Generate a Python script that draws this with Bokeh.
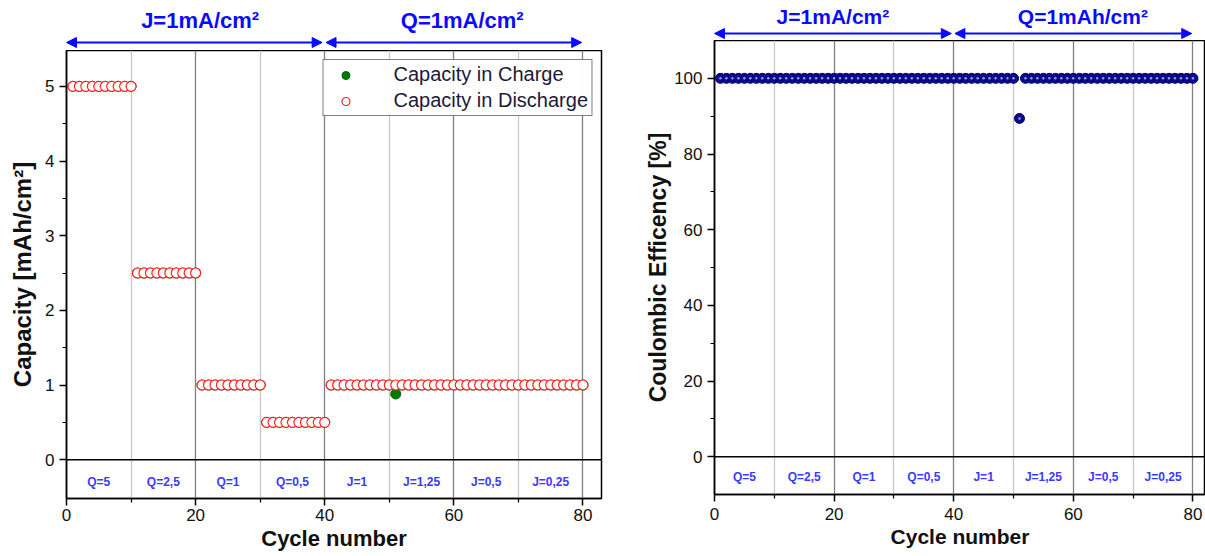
from bokeh.plotting import figure
from bokeh.layouts import row, column
from bokeh.models import (FixedTicker, Span, Arrow, NormalHead, Label, Legend,
                          LegendItem, Range1d, ColumnDataSource)
from bokeh.core.properties import value
from bokeh.embed import file_html
from bokeh.resources import INLINE

# ---------------- data ----------------
cycles = list(range(1, 81))
cap_discharge = [5, 5, 5, 5, 5, 5, 5, 5, 5, 5,
                 2.5, 2.5, 2.5, 2.5, 2.5, 2.5, 2.5, 2.5, 2.5, 2.5,
                 1, 1, 1, 1, 1, 1, 1, 1, 1, 1,
                 0.5, 0.5, 0.5, 0.5, 0.5, 0.5, 0.5, 0.5, 0.5, 0.5,
                 1, 1, 1, 1, 1, 1, 1, 1, 1, 1,
                 1, 1, 1, 1, 1, 1, 1, 1, 1, 1,
                 1, 1, 1, 1, 1, 1, 1, 1, 1, 1,
                 1, 1, 1, 1, 1, 1, 1, 1, 1, 1]
cap_charge = [5, 5, 5, 5, 5, 5, 5, 5, 5, 5,
              2.5, 2.5, 2.5, 2.5, 2.5, 2.5, 2.5, 2.5, 2.5, 2.5,
              1, 1, 1, 1, 1, 1, 1, 1, 1, 1,
              0.5, 0.5, 0.5, 0.5, 0.5, 0.5, 0.5, 0.5, 0.5, 0.5,
              1, 1, 1, 1, 1, 1, 1, 1, 1, 1,
              0.88, 1, 1, 1, 1, 1, 1, 1, 1, 1,
              1, 1, 1, 1, 1, 1, 1, 1, 1, 1,
              1, 1, 1, 1, 1, 1, 1, 1, 1, 1]
efficiency = [100, 100, 100, 100, 100, 100, 100, 100, 100, 100,
              100, 100, 100, 100, 100, 100, 100, 100, 100, 100,
              100, 100, 100, 100, 100, 100, 100, 100, 100, 100,
              100, 100, 100, 100, 100, 100, 100, 100, 100, 100,
              100, 100, 100, 100, 100, 100, 100, 100, 100, 100,
              89.4, 100, 100, 100, 100, 100, 100, 100, 100, 100,
              100, 100, 100, 100, 100, 100, 100, 100, 100, 100,
              100, 100, 100, 100, 100, 100, 100, 100, 100, 100]
band_labels = ["Q=5", "Q=2,5", "Q=1", "Q=0,5", "J=1", "J=1,25", "J=0,5", "J=0,25"]
band_centers = [5, 15, 25, 35, 45, 55, 65, 75]
x_major = [0, 20, 40, 60, 80]
x_minor = [10, 30, 50, 70]
cap_major = [0, 1, 2, 3, 4, 5]
cap_minor = [0.5, 1.5, 2.5, 3.5, 4.5]
eff_major = [0, 20, 40, 60, 80, 100]
eff_minor = [10, 30, 50, 70, 90]
seg_titles_left = ["J=1mA/cm\u00b2", "Q=1mA/cm\u00b2"]
seg_titles_right = ["J=1mA/cm\u00b2", "Q=1mAh/cm\u00b2"]
seg_start = [0, 40.2]
seg_end = [39.6, 79.8]

FONT = "Liberation Sans"
BLUE = "#0a0aff"
BAND_BLUE = "#3a3aff"


def style(p, ymaj, ymin, ylabel, xstand, ystand, ylabstand, xlabsize, ylabsize):
    p.outline_line_color = "black"
    p.outline_line_width = 1.5
    p.xaxis.ticker = FixedTicker(ticks=x_major, minor_ticks=x_minor)
    p.yaxis.ticker = FixedTicker(ticks=ymaj, minor_ticks=ymin)
    for ax in (p.xaxis[0], p.yaxis[0]):
        ax.axis_line_color = "black"
        ax.axis_line_width = 1.5
        ax.major_tick_line_color = "black"
        ax.major_tick_line_width = 1.5
        ax.minor_tick_line_color = "black"
        ax.minor_tick_line_width = 1.2
        ax.major_tick_in = 0
        ax.major_tick_out = 7
        ax.minor_tick_in = 0
        ax.minor_tick_out = 4
        ax.major_label_text_font = FONT
        ax.major_label_text_font_size = "17px"
        ax.major_label_text_color = "#111111"
        ax.axis_label_text_font = FONT
        ax.axis_label_text_font_style = "bold"
        ax.axis_label_text_color = "#111111"
    p.xaxis.axis_label_text_font_size = xlabsize
    p.yaxis.axis_label_text_font_size = ylabsize
    p.xaxis.major_label_standoff = xstand
    p.xaxis.axis_label_standoff = 2
    p.yaxis.major_label_standoff = ystand
    p.yaxis.axis_label_standoff = ylabstand
    p.xaxis.axis_label = "Cycle number"
    p.yaxis.axis_label = ylabel
    p.ygrid.grid_line_color = None
    p.xgrid.grid_line_color = "#808080"
    p.xgrid.grid_line_width = 1.3
    p.xgrid.minor_grid_line_color = "#c8c8c8"
    p.xgrid.minor_grid_line_width = 1.3
    p.add_layout(Span(location=0, dimension="width", line_color="black", line_width=1.5))


def band(p, yband):
    src = ColumnDataSource(dict(x=band_centers, y=[yband] * len(band_centers), t=band_labels))
    p.text(x="x", y="y", text="t", source=src, text_font=value(FONT),
           text_font_style="bold", text_font_size="12px", text_color=BAND_BLUE,
           text_align="center", text_baseline="middle")


def header(width, height, xr, left, right, titles, yarrow, ytext, xcenters, fsize):
    h = figure(width=width, height=height, output_backend="svg", toolbar_location=None,
               x_range=xr, y_range=Range1d(height, 0), x_axis_type=None, y_axis_type=None,
               min_border_left=left, min_border_right=right, min_border_top=0,
               min_border_bottom=0)
    h.outline_line_color = None
    h.grid.grid_line_color = None
    for s, e in zip(seg_start, seg_end):
        h.add_layout(Arrow(x_start=s, x_end=e, y_start=yarrow, y_end=yarrow,
                           line_color=BLUE, line_width=2,
                           start=NormalHead(size=10, fill_color=BLUE, line_color=BLUE),
                           end=NormalHead(size=10, fill_color=BLUE, line_color=BLUE)))
    for t, xc in zip(titles, xcenters):
        h.add_layout(Label(x=xc, y=ytext, text=t, text_font=FONT, text_font_style="bold",
                           text_font_size=fsize, text_color=BLUE, text_align="center",
                           text_baseline="middle"))
    return h


# ---------------- left chart ----------------
xr1 = Range1d(0, 82.87)
h1 = header(640, 50, xr1, 66, 39, seg_titles_left, 42, 20, [20.7, 61.3], "22px")
p1 = figure(width=640, height=506, output_backend="svg", toolbar_location=None,
            x_range=xr1, y_range=Range1d(-0.52, 5.48),
            min_border_left=66, min_border_right=39, min_border_top=0, min_border_bottom=58)
style(p1, cap_major, cap_minor, "Capacity [mAh/cm\u00b2]", 3, 5, 6, "22px", "24px")
band(p1, -0.3)

src1 = ColumnDataSource(dict(x=cycles, c=cap_charge, d=cap_discharge))
r_ch = p1.scatter(x="x", y="c", source=src1, marker="circle", size=10,
                  fill_color="#007a00", line_color="#006400", line_width=1)
r_dis = p1.scatter(x="x", y="d", source=src1, marker="circle", size=10,
                   fill_color="white", line_color="#ff2020", line_width=1.2)

leg = Legend(items=[LegendItem(label="Capacity in Charge", renderers=[r_ch]),
                    LegendItem(label="Capacity in Discharge", renderers=[r_dis])],
             location="top_right")
leg.margin = 9
leg.padding = 3
leg.spacing = 3
leg.glyph_width = 38
leg.label_standoff = 29
leg.label_text_font = FONT
leg.label_text_font_size = "20px"
leg.label_text_color = "#1a1a3a"
leg.border_line_color = "black"
leg.border_line_width = 1.5
leg.background_fill_color = "white"
p1.add_layout(leg)

# ---------------- right chart ----------------
xr2 = Range1d(0, 82.1)
h2 = header(565, 40, xr2, 74, 0, seg_titles_right, 33, 16, [19.8, 61.6], "21px")
p2 = figure(width=565, height=516, output_backend="svg", toolbar_location=None,
            x_range=xr2, y_range=Range1d(-10, 110),
            min_border_left=74, min_border_right=0, min_border_top=0, min_border_bottom=62)
style(p2, eff_major, eff_minor, "Coulombic Efficency [%]", 6, 5, 0, "21px", "23px")
band(p2, -5.5)

src2 = ColumnDataSource(dict(x=cycles, e=efficiency))
p2.scatter(x="x", y="e", source=src2, marker="circle", size=10,
           fill_color="#0a0a96", line_color="#00005a", line_width=1)
p2.scatter(x="x", y="e", source=src2, marker="circle", size=2.5,
           fill_color="white", fill_alpha=0.6, line_color=None)

layout = row(column(h1, p1), column(h2, p2))
open("out.html", "w").write(file_html(layout, INLINE))
